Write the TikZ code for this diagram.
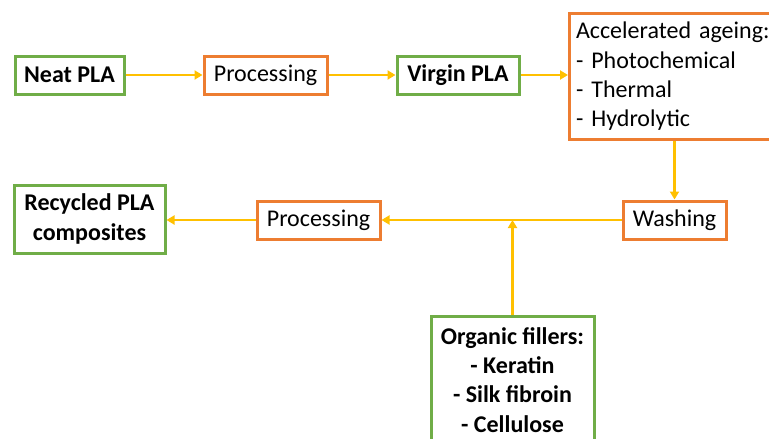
\documentclass[tikz,border=0pt]{standalone}
\usepackage{fontspec}
\setmainfont{Carlito}
\usetikzlibrary{arrows.meta}
\definecolor{boxgreen}{HTML}{70AD47}
\definecolor{boxorange}{HTML}{ED7D31}
\definecolor{arrowgold}{HTML}{FFC000}
\begin{document}
\begin{tikzpicture}[x=1pt,y=-1pt,
  box/.style={draw, line width=3pt, fill=white, inner sep=0pt, font=\fontsize{24}{29.3}\selectfont},
  greenbox/.style={box, draw=boxgreen, font=\fontsize{24}{29.3}\selectfont\bfseries},
  orangebox/.style={box, draw=boxorange},
  flow/.style={draw=arrowgold, line width=2.3pt, -{Triangle[length=8pt,width=9pt]}}
]
\useasboundingbox (0,0) rectangle (769,439);
\node[greenbox, minimum width=109pt, minimum height=38pt] (neat) at (69.5,75) {Neat PLA};
\node[orangebox, minimum width=123pt, minimum height=38pt] (proc1) at (265.5,75) {Processing};
\node[greenbox, minimum width=122pt, minimum height=38pt] (virgin) at (458,75) {Virgin PLA};
\node[orangebox, anchor=north west, minimum height=126pt, text width=200pt, inner xsep=6.5pt, align=left] (acc) at (568,12)
  {Accelerated ageing:\\- Photochemical\\- Thermal\\- Hydrolytic};
\node[orangebox, minimum width=103pt, minimum height=38pt] (wash) at (674.5,220) {Washing};
\node[orangebox, minimum width=123pt, minimum height=38pt] (proc2) at (318.5,220) {Processing};
\node[greenbox, minimum width=151pt, minimum height=68pt, align=center] (rec) at (89.5,219) {Recycled PLA\\composites};
\node[greenbox, anchor=north, minimum width=163pt, minimum height=135pt, align=center, inner ysep=11pt] (org) at (512.5,315)
  {Organic fillers:\\- Keratin\\- Silk fibroin\\- Cellulose\\[40pt]};
\coordinate (junc) at (org.north |- wash.west);
\draw[flow] (neat.east) -- (proc1.west);
\draw[flow] (proc1.east) -- (virgin.west);
\draw[flow] (virgin.east) -- (acc.west |- virgin.east);
\draw[flow] (wash.north |- acc.south) -- (wash.north);
\draw[flow] (wash.west) -- (proc2.east);
\draw[flow] (proc2.west) -- (rec.east |- proc2.west);
\draw[flow] (org.north) -- (junc);
\end{tikzpicture}
\end{document}
